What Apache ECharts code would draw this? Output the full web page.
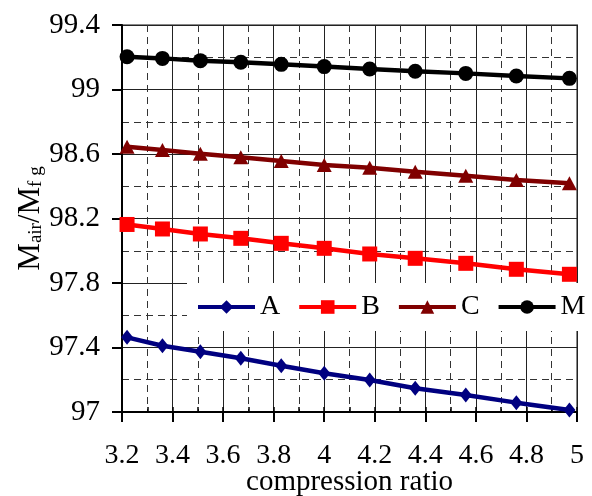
<!DOCTYPE html>
<html>
<head>
<meta charset="utf-8">
<script src="https://cdn.jsdelivr.net/npm/echarts@6/dist/echarts.min.js"></script>
<style>html,body{margin:0;padding:0;background:#fff}#c{width:592px;height:496px}</style>
</head>
<body>
<div id="c"></div>
<script>
// compression ratio values (x) shared by all series
var ratios = [3.22, 3.36, 3.51, 3.67, 3.83, 4.00, 4.18, 4.36, 4.56, 4.76, 4.97];
var seriesNames = ['A', 'B', 'C', 'M'];
var valuesA = [97.463, 97.411, 97.374, 97.333, 97.287, 97.240, 97.198, 97.147, 97.105, 97.058, 97.012];
var valuesB = [98.163, 98.135, 98.104, 98.077, 98.046, 98.015, 97.980, 97.953, 97.922, 97.885, 97.854];
var valuesC = [98.645, 98.625, 98.602, 98.580, 98.557, 98.532, 98.515, 98.490, 98.465, 98.439, 98.418];
var valuesM = [99.203, 99.193, 99.179, 99.169, 99.156, 99.142, 99.127, 99.113, 99.100, 99.084, 99.069];
var xTicks = [3.2, 5.0, 0.2];
var yTicks = [97, 99.4, 0.4];

var FONT = '"Liberation Serif", "Times New Roman", serif';
var colors = ['#000080', '#ff0000', '#800000', '#000000'];
var symbols = ['diamond', 'rect', 'triangle', 'circle'];
var sizes = [[12, 15], 15, [15, 14], 15];
var allVals = [valuesA, valuesB, valuesC, valuesM];

function pairs(vals) {
  return ratios.map(function (x, i) { return [x, vals[i]]; });
}

var series = seriesNames.map(function (n, k) {
  return {
    name: n,
    type: 'line',
    data: pairs(allVals[k]),
    symbol: symbols[k],
    symbolSize: sizes[k],
    color: colors[k],
    lineStyle: { width: 4.5, color: colors[k] },
    itemStyle: { color: colors[k] },
    z: 5
  };
});

var chart = echarts.init(document.getElementById('c'), null, { renderer: 'canvas' });
chart.setOption({
  animation: false,
  backgroundColor: '#fff',
  grid: { left: 122, right: 15, top: 25, bottom: 84, outerBoundsMode: 'none', containLabel: false,
          show: true, borderColor: '#888', borderWidth: 2, backgroundColor: 'transparent' },
  legend: {
    data: seriesNames,
    left: 187, top: 283,
    width: 395,
    orient: 'horizontal',
    backgroundColor: '#fff',
    padding: [10, 6, 10, 9],
    itemGap: 17,
    itemWidth: 57,
    itemHeight: 17,
    lineStyle: { width: 4 },
    textStyle: { fontFamily: FONT, fontSize: 28, color: '#000' },
    z: 10
  },
  xAxis: [{
    type: 'value',
    min: xTicks[0], max: xTicks[1], interval: xTicks[2],
    axisLine: { show: true, onZero: false, lineStyle: { color: '#000', width: 2 } },
    axisTick: { show: true, inside: false, length: 10, lineStyle: { color: '#000', width: 2 } },
    axisLabel: { fontFamily: FONT, fontSize: 28, color: '#000', margin: 30, formatter: function (v) { return String(+v.toFixed(1)); } },
    splitLine: { show: true, lineStyle: { color: '#222', width: 1 } },
    minorTick: { show: false, splitNumber: 2 },
    minorSplitLine: { show: true, lineStyle: { color: '#333', width: 1, type: [7, 5] } },
    name: 'compression ratio',
    nameLocation: 'middle',
    nameGap: 56,
    nameMoveOverlap: false,
    nameTextStyle: { fontFamily: FONT, fontSize: 29, color: '#000' }
  }, {
    type: 'value',
    position: 'bottom',
    min: xTicks[0], max: xTicks[1], interval: 0.1,
    axisLine: { show: false },
    axisTick: { show: true, inside: true, length: 5, lineStyle: { color: '#000', width: 1.5 } },
    axisLabel: { show: false },
    splitLine: { show: false }
  }],
  yAxis: {
    type: 'value',
    min: yTicks[0], max: yTicks[1], interval: yTicks[2],
    axisLine: { show: true, onZero: false, lineStyle: { color: '#000', width: 2 } },
    axisTick: { show: true, inside: false, length: 10, lineStyle: { color: '#000', width: 2 } },
    axisLabel: { fontFamily: FONT, fontSize: 29, color: '#000', margin: 22, formatter: function (v) { return String(+v.toFixed(1)); } },
    splitLine: { show: true, lineStyle: { color: '#222', width: 1 } },
    minorTick: { show: false, splitNumber: 2 },
    minorSplitLine: { show: true, lineStyle: { color: '#333', width: 1, type: [7, 5] } },
    name: '{m|M}{s|air}{m|/M}{s|f g}',
    nameLocation: 'middle',
    nameRotate: 90,
    nameGap: 76,
    nameMoveOverlap: false,
    nameTextStyle: {
      fontFamily: FONT, color: '#000',
      rich: {
        m: { fontFamily: FONT, fontSize: 31, lineHeight: 31, color: '#000' },
        s: { fontFamily: FONT, fontSize: 19, lineHeight: 14, verticalAlign: 'bottom', color: '#000' }
      }
    }
  },
  series: series
});
</script>
</body>
</html>
